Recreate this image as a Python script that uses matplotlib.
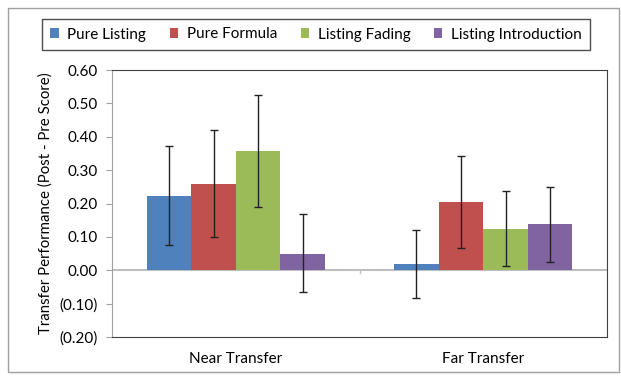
import numpy as np
import matplotlib.pyplot as plt
from matplotlib.patches import Rectangle
from matplotlib.ticker import FuncFormatter

categories = ["Near Transfer", "Far Transfer"]
series = ["Pure Listing", "Pure Formula", "Listing Fading", "Listing Introduction"]
colors = ["#4F81BD", "#C0504D", "#9BBB59", "#8064A2"]

means = [
    [0.222, 0.018],
    [0.257, 0.204],
    [0.356, 0.125],
    [0.050, 0.138],
]
err_hi = [
    [0.371, 0.121],
    [0.419, 0.341],
    [0.524, 0.237],
    [0.170, 0.250],
]
err_lo = [
    [0.075, -0.084],
    [0.099, 0.067],
    [0.190, 0.013],
    [-0.066, 0.025],
]

plt.rcParams['font.family'] = ['Lato', 'DejaVu Sans']

fig = plt.figure(figsize=(6.21, 3.77), dpi=100)
fig.patches.append(Rectangle((8/621, 5/377), 611/621, 364/377, transform=fig.transFigure,
                             fill=False, edgecolor="#A0A0A0", linewidth=1))
ax = fig.add_axes([0.1804, 0.1061, 0.7971, 0.7082])

x = np.arange(len(categories))
w = 0.18
for i in range(len(series)):
    pos = x + (i - 1.5) * w
    m = np.array(means[i])
    lo = m - np.array(err_lo[i])
    hi = np.array(err_hi[i]) - m
    ax.bar(pos, m, width=w, color=colors[i], label=series[i], zorder=2)
    ax.errorbar(pos, m, yerr=[lo, hi], fmt="none", ecolor="#222222",
                elinewidth=1, capsize=3, capthick=1, zorder=3)

ax.set_xlim(-0.5, 1.5)
ax.set_ylim(-0.2, 0.6)
ax.set_yticks(np.arange(-0.2, 0.61, 0.1))
ax.yaxis.set_major_formatter(FuncFormatter(
    lambda v, p: f"({abs(v):.2f})" if v < -1e-9 else f"{abs(v):.2f}"))
ax.set_xticks(x)
ax.set_xticklabels(categories)
ax.tick_params(axis="x", length=0, pad=11, labelsize=11)
ax.tick_params(axis="y", length=4, color="#A0A0A0", labelsize=11, pad=6)

ax.axhline(0, color="#BFBFBF", linewidth=1.5, zorder=1)
ax.plot([0.5, 0.5], [0, -0.008], color="#BFBFBF", linewidth=1, clip_on=False)

for s in ["top", "right", "bottom"]:
    ax.spines[s].set_color("#404040")
ax.spines["left"].set_color("#A0A0A0")

ax.set_ylabel("Transfer Performance (Post - Pre Score)", fontsize=10.8, labelpad=5)

leg = fig.legend(loc="center", bbox_to_anchor=(316/621, 1 - 34.5/377), ncol=4,
                 frameon=True, fancybox=False, edgecolor="#202020", fontsize=11,
                 handlelength=0.55, handleheight=0.55, handletextpad=0.55,
                 columnspacing=1.55, borderpad=0.55)
leg.get_frame().set_linewidth(1)

fig.savefig("out.png", dpi=100)
